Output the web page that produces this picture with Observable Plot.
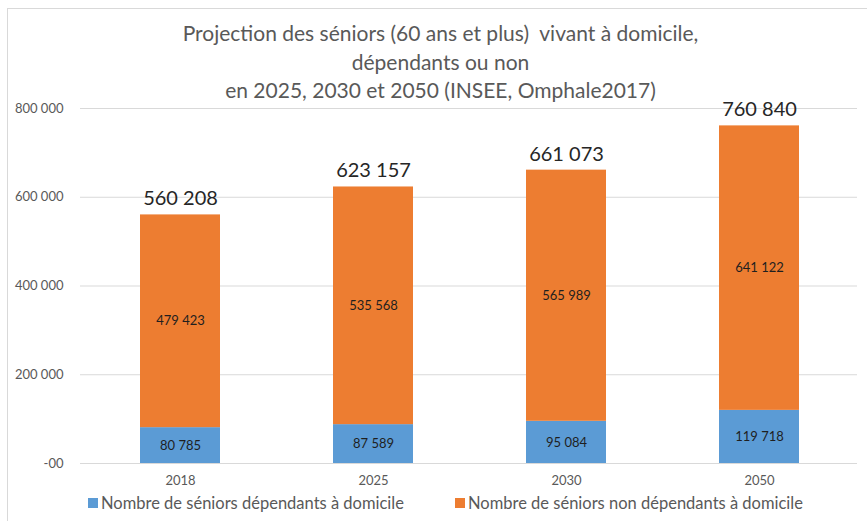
<!DOCTYPE html>
<html>
<head>
<meta charset="utf-8">
<script src="https://cdn.jsdelivr.net/npm/d3@7"></script>
<script src="https://cdn.jsdelivr.net/npm/@observablehq/plot@0.6"></script>
<style>
  html, body { margin: 0; padding: 0; background: #fff; }
  #wrap { position: relative; width: 867px; height: 521px; overflow: hidden; font-family: Lato, "Open Sans", sans-serif; }
  #frame { position: absolute; left: 7px; top: 8px; width: 870px; height: 520px; border-left: 1px solid #d9d9d9; border-top: 1px solid #d9d9d9; }
  #title { position: absolute; left: 7px; top: 19px; width: 867px; text-align: center; color: #595959; font-size: 21px; line-height: 28.5px; }
  #chart { position: absolute; left: 0; top: 0; }
  #legend { position: absolute; left: 88px; top: 493px; color: #595959; font-size: 16.5px; white-space: nowrap; }
  #legend span.item { position: absolute; top: 0; display: inline-flex; align-items: center; }
  #legend span.sw { display: inline-block; width: 10px; height: 10px; margin-right: 3px; }
</style>
</head>
<body>
<div id="wrap">
  <div id="frame"></div>
  <div id="chart"></div>
  <div id="title"></div>
  <div id="legend"></div>
</div>
<script>
const titleLines = [
  "Projection des séniors (60 ans et plus)  vivant à domicile,",
  "dépendants ou non",
  "en 2025, 2030 et 2050 (INSEE, Omphale2017)"
];
const years = ["2018", "2025", "2030", "2050"];
const dependants = [80785, 87589, 95084, 119718];
const nonDependants = [479423, 535568, 565989, 641122];
const totals = [560208, 623157, 661073, 760840];
const seriesNames = ["Nombre de séniors dépendants à domicile", "Nombre de séniors non dépendants à domicile"];
const seriesColors = ["#5B9BD5", "#ED7D31"];
const yTicks = [0, 200000, 400000, 600000, 800000];
const yTickLabels = ["-00", "200 000", "400 000", "600 000", "800 000"];

const fmt = d => d3.format(",")(d).replace(/,/g, " ");

const rows = [];
years.forEach((y, i) => {
  rows.push({year: y, series: seriesNames[0], value: dependants[i]});
  rows.push({year: y, series: seriesNames[1], value: nonDependants[i]});
});
const totalRows = years.map((y, i) => ({year: y, total: totals[i]}));

document.getElementById("title").innerHTML = titleLines.map(t => `<div>${t.replace(/  /g, " &nbsp;")}</div>`).join("");

const chart = Plot.plot({
  width: 867,
  height: 495,
  marginTop: 108,
  marginBottom: 32,
  marginLeft: 80,
  marginRight: 10,
  style: {fontFamily: "Lato, 'Open Sans', sans-serif", background: "transparent", overflow: "visible"},
  x: {domain: years, range: [83, 856], paddingInner: 0.586, paddingOuter: 0.293, label: null},
  y: {domain: [0, 800000], label: null},
  color: {domain: seriesNames, range: seriesColors},
  marks: [
    Plot.gridY(yTicks, {stroke: "#d9d9d9", strokeOpacity: 1}),
    Plot.barY(rows, {x: "year", y: "value", fill: "series"}),
    Plot.text(rows, Plot.stackY({x: "year", y: "value", z: "series", text: d => fmt(d.value), fill: "#1f1f1f", fontSize: 13})),
    Plot.text(totalRows, {x: "year", y: "total", text: d => fmt(d.total), dy: -16, fontSize: 20, fill: "#262626"}),
    Plot.axisY(yTicks, {tickFormat: (d, i) => yTickLabels[i], tickSize: 0, tickPadding: 17, fontSize: 13, fill: "#595959"}),
    Plot.axisX({tickSize: 0, tickPadding: 12, fontSize: 13, fill: "#595959"})
  ]
});
document.getElementById("chart").appendChild(chart);

const legend = document.getElementById("legend");
const offsets = [0, 367];
seriesNames.forEach((n, i) => {
  const item = document.createElement("span");
  item.className = "item";
  item.style.left = offsets[i] + "px";
  item.innerHTML = `<span class="sw" style="background:${seriesColors[i]}"></span>${n}`;
  legend.appendChild(item);
});
</script>
</body>
</html>
